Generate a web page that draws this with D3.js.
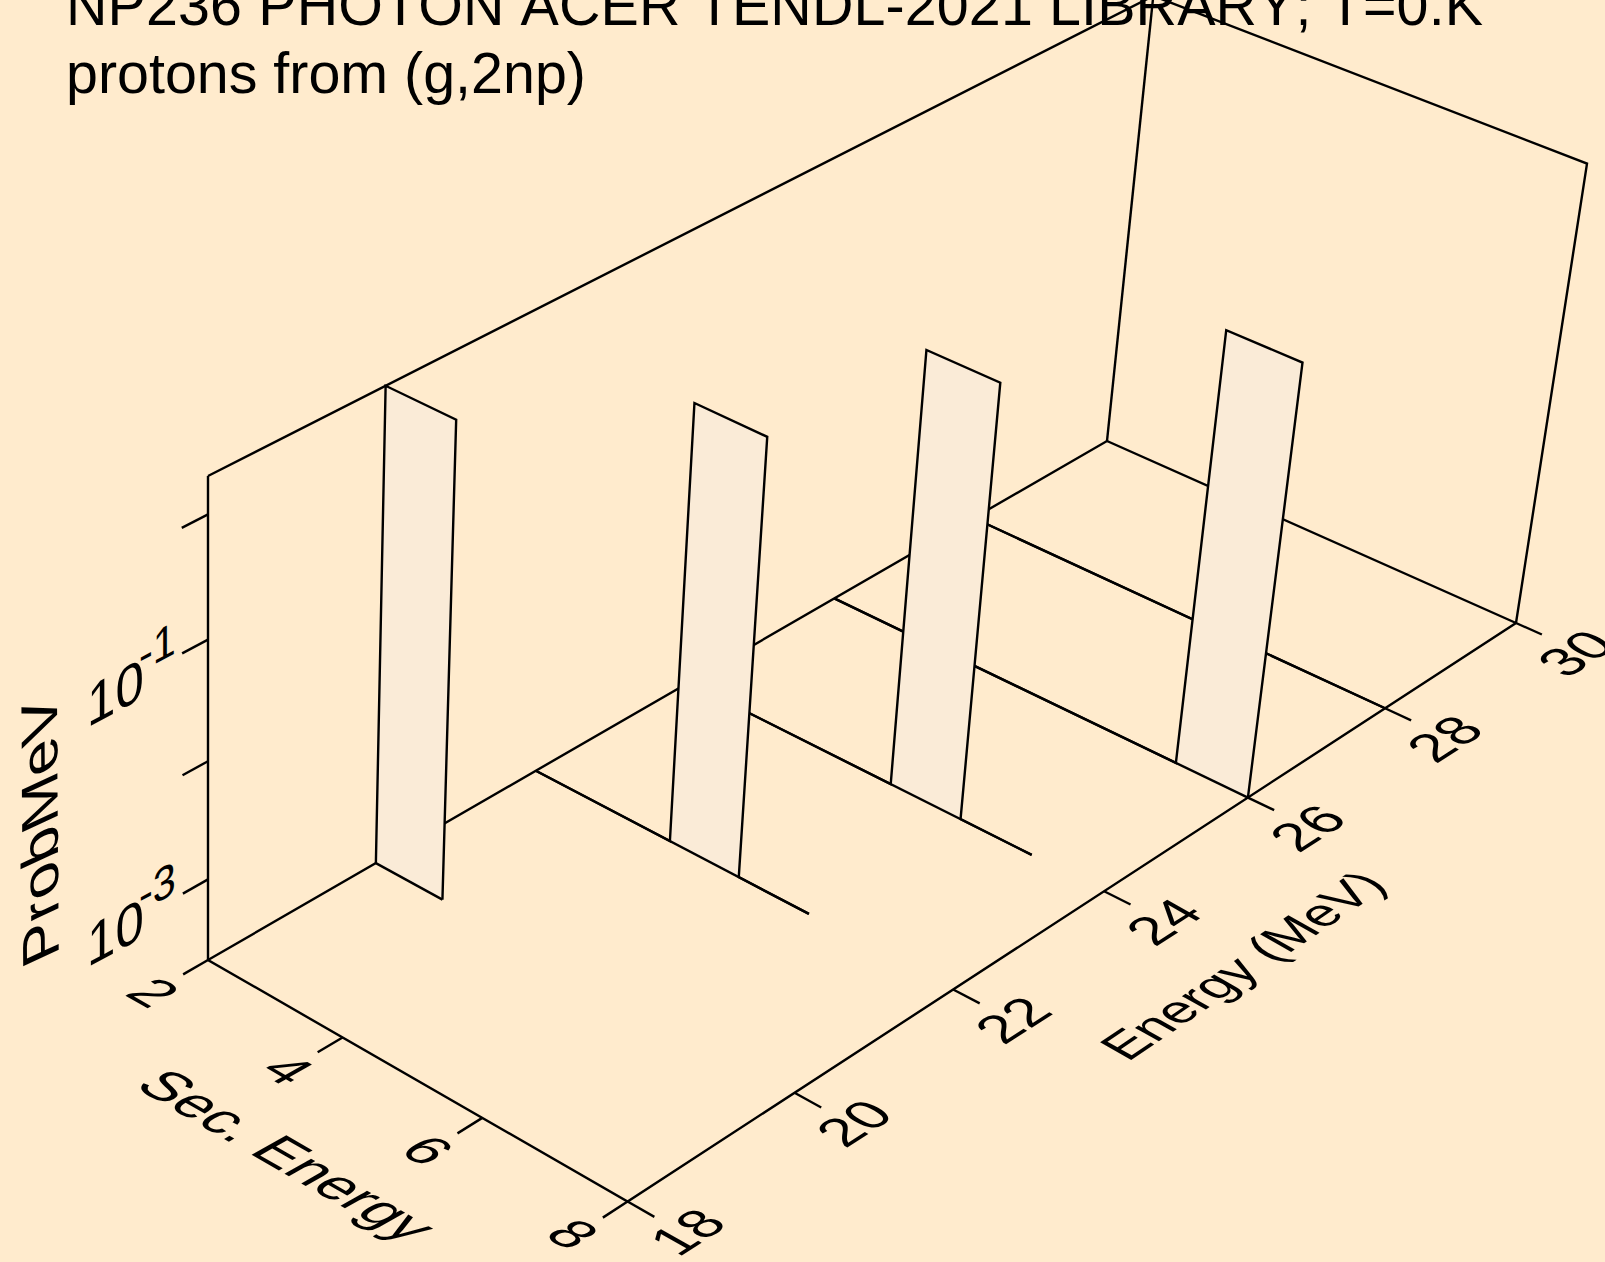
<!DOCTYPE html>
<html><head><meta charset="utf-8"><style>html,body{margin:0;padding:0;background:#FFEBCD}svg{display:block}text{font-family:"Liberation Sans",Arial,sans-serif;fill:#000;font-kerning:none}</style>
<script src="https://cdn.jsdelivr.net/npm/d3@7/dist/d3.min.js"></script></head><body>
<div id="chart"></div>
<script>
// ---- data ----
const titleLines=["NP236 PHOTON ACER TENDL-2021 LIBRARY; T=0.K","protons from (g,2np)"];
const secDomain=[2,8], energyDomain=[18,30], probDomain=[2e-4,2];
const secTicks=[2,4,6,8], energyTicks=[18,20,22,24,26,28,30];
const probTicks=[1e-3,1e-2,1e-1,1], probLabelled=[[1e-3,"-3"],[1e-1,"-1"]];
const energies=[28,26,24,22,20];
const sec28=[2,8],      prob28=[2e-4,2e-4];
const sec26=[2,7,7,8,8],prob26=[2e-4,2e-4,1,1,2e-4];
const sec24=[2,5,5,6,6,7],prob24=[2e-4,2e-4,1,1,2e-4,2e-4];
const sec22=[2,4,4,5,5,6],prob22=[2e-4,2e-4,1,1,2e-4,2e-4];
const sec20=[2,2,3,3],  prob20=[2e-4,2,2,2e-4];
const secSeries=[sec28,sec26,sec24,sec22,sec20], probSeries=[prob28,prob26,prob24,prob22,prob20];

// ---- scales: data -> unit cube -> screen (perspective box) ----
const sx3=d3.scaleLinear().domain(secDomain).range([0,1]);
const sy3=d3.scaleLinear().domain(energyDomain).range([0,1]);
const sz3=d3.scaleLog().domain(probDomain).range([0,1]);
const c={O:[208,960],U:[627.6,1201.5],V:[1107,441],UV:[1516,623],W:[208,476],VW:[1153,-4.07]};
const dx1=c.U[0]-c.UV[0],dx2=c.V[0]-c.UV[0],sx=c.O[0]-c.U[0]+c.UV[0]-c.V[0];
const dy1=c.U[1]-c.UV[1],dy2=c.V[1]-c.UV[1],sy=c.O[1]-c.U[1]+c.UV[1]-c.V[1];
const den=dx1*dy2-dx2*dy1,a=(sx*dy2-dx2*sy)/den,b=(dx1*sy-sx*dy1)/den;
const cw=(c.V[1]*(1+b)+c.W[1]-c.O[1]-c.VW[1]*(1+b))/(c.VW[1]-c.W[1]);
const N=k=>({A:c.U[k]*(1+a)-c.O[k],B:c.V[k]*(1+b)-c.O[k],C:c.W[k]*(1+cw)-c.O[k],O:c.O[k]});
const NX=N(0),NY=N(1);
const unit=(u,v,w)=>{const d=1+a*u+b*v+cw*w;return [(NX.O+NX.A*u+NX.B*v+NX.C*w)/d,(NY.O+NY.A*u+NY.B*v+NY.C*w)/d];};
const P=(s,e,p)=>unit(sx3(s),sy3(e),sz3(p));
const line=d3.line();
const pmin=probDomain[0],pmax=probDomain[1];
const tickU=1.06,tickV=-0.024;

const svg=d3.select('#chart').append('svg').attr('width',1605).attr('height',1262).style('background','#FFEBCD');
function label(t,x,y,bv,uv,sb,su,anchor,dy){
  svg.append('text').attr('text-anchor',anchor||'middle').attr('font-size',100).attr('y',dy||0)
   .attr('transform',`matrix(${bv[0]*sb/100},${bv[1]*sb/100},${-uv[0]*su/100},${-uv[1]*su/100},${x},${y})`).text(t);
}
// title
titleLines.forEach((t,i)=>{const e=svg.append('text').attr('x',66).attr('y',25+i*68.3).attr('font-size',57.4).text(t);
  if(i===0)e.attr('textLength',1417).attr('lengthAdjust','spacing');});

const SW=2.4;
const ln=(pts)=>svg.append('path').attr('d',line(pts)).attr('fill','none').attr('stroke','#000').attr('stroke-width',SW).attr('stroke-linejoin','miter');
// box
ln([P(2,18,pmax),P(2,18,pmin),P(8,18,pmin),P(8,30,pmin),P(8,30,pmax),P(2,30,pmax),P(2,18,pmax)]);
ln([P(2,18,pmin),P(2,30,pmin),P(8,30,pmin)]);
ln([P(2,30,pmin),P(2,30,pmax)]);
// ticks
secTicks.forEach(s=>{ln([P(s,18,pmin),unit(sx3(s),tickV,0)]);});
energyTicks.forEach(e=>{ln([P(8,e,pmin),unit(tickU,sy3(e),0)]);});
probTicks.forEach(p=>{ln([P(2,18,p),unit(0,tickV,sz3(p))]);});
// spectra, back to front
energies.forEach((e,i)=>{
  const pts=secSeries[i].map((s,j)=>P(s,e,probSeries[i][j]));
  svg.append('path').attr('d',line(pts)+'Z').attr('fill','#FAEBD7').attr('stroke','none');
  ln([pts[0],pts[pts.length-1]]);
  ln(pts);
});
// tick labels
const eB=[0.84,-0.54],eU=[-0.87,-0.49],sB=[0.867,0.498],sU=[0.87,-0.49];
energyTicks.forEach(e=>{const p=P(8,e,pmin);label(String(e),p[0]+59,p[1]+30,eB,eU,55,55,'middle',36);});
secTicks.forEach(s=>{const p=P(s,18,pmin);label(String(s),p[0]-54,p[1]+32,sB,sU,56,56,'middle',36);});
label("Sec. Energy",288,1155,sB,sU,58,58,'middle',36);
label("Energy (MeV)",1242,965,[0.83,-0.56],eU,51,52,'middle',36);
label("ProbMeV",58.7,955,[-0.007,-1],[-0.906,0.42],63.5,57,'start');
probLabelled.forEach(([p,ex])=>{const q=P(2,18,p);
  label("10",q[0]-121,q[1]+88,[0.88,-0.47],[0,-1],58,58,'start');
  label(ex,q[0]-69,q[1]+33,[0.88,-0.47],[0,-1],47,47,'start');
});
</script></body></html>
